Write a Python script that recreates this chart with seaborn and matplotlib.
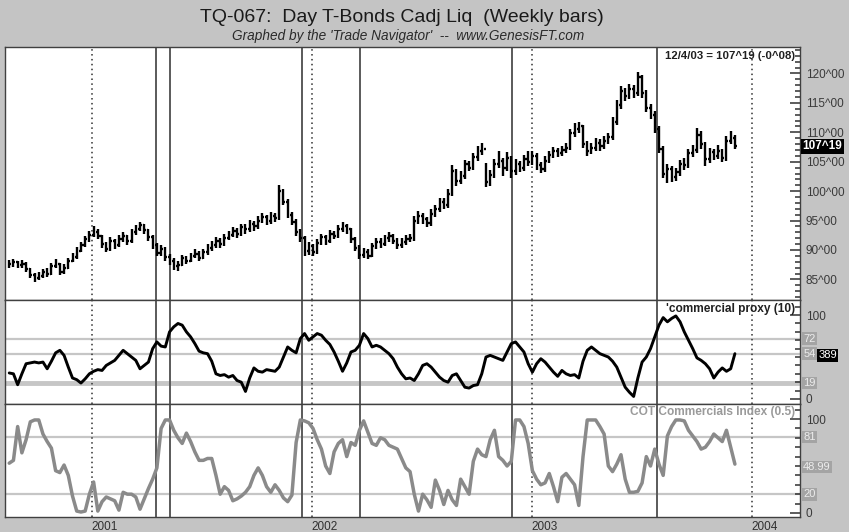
import matplotlib
matplotlib.use('Agg')
import matplotlib.pyplot as plt
import matplotlib.dates as mdates
from matplotlib.ticker import MultipleLocator, FixedLocator, FuncFormatter
import seaborn as sns
import pandas as pd

# weekly T-Bond bars (cadj), last bar 12/4/03
close = [87.6, 87.9, 87.4, 87.7, 86.8, 85.8, 85.3, 85.6, 86.2, 86.0,
         87.2, 87.6, 86.3, 87.0, 88.2, 88.8, 89.9, 90.8, 91.8, 92.6,
         93.1, 92.4, 91.0, 90.2, 91.6, 90.8, 91.9, 92.3, 91.5, 93.0,
         93.6, 94.2, 93.4, 92.2, 90.8, 89.5, 90.2, 88.8, 88.2, 87.2,
         87.5, 88.6, 88.2, 88.9, 89.4, 88.7, 89.6, 90.3, 90.9, 91.5,
         91.0, 92.1, 92.6, 93.2, 92.8, 93.9, 93.5, 94.4, 94.0, 95.0,
         95.6, 94.9, 95.8, 95.4, 100.0, 98.2, 96.0, 94.8, 93.0, 92.0,
         89.8, 90.6, 89.6, 91.2, 92.2, 91.5, 92.8, 92.4, 93.6, 94.0,
         93.5, 91.8, 90.4, 89.2, 89.6, 89.0, 90.6, 91.4, 91.0, 92.0,
         92.4, 91.6, 90.8, 91.4, 91.8, 92.0, 95.0, 95.8, 95.2, 94.6,
         96.2, 97.0, 98.2, 97.6, 99.6, 103.4, 101.8, 102.6, 104.6, 104.0,
         105.8, 106.8, 107.2, 101.6, 102.8, 104.6, 105.2, 104.0, 105.6, 103.4,
         104.6, 104.0, 105.4, 105.0, 106.0, 104.4, 103.8, 105.2, 106.2, 106.8,
         106.4, 107.0, 107.4, 109.8, 110.6, 111.0, 108.0, 106.8, 107.4, 108.2,
         107.6, 108.6, 109.2, 111.8, 114.6, 117.0, 116.2, 117.4, 116.6, 119.4,
         116.6, 114.2, 113.0, 110.6, 107.2, 103.0, 103.8, 102.4, 103.2, 104.6,
         104.4, 106.4, 107.0, 109.6, 108.0, 105.4, 106.6, 106.0, 106.8, 105.6,
         108.6, 109.0, 107.6]
high = [88.3, 88.4, 88.2, 88.3, 87.9, 87.0, 86.1, 86.2, 86.8, 86.9,
        87.8, 88.4, 87.8, 87.6, 88.7, 89.5, 90.5, 91.4, 92.4, 93.2,
        94.0, 93.5, 92.6, 91.4, 92.2, 91.9, 92.5, 93.0, 92.6, 93.5,
        94.3, 94.8, 94.5, 93.6, 92.5, 91.2, 90.9, 90.5, 89.3, 88.6,
        88.2, 89.2, 89.0, 89.5, 90.1, 89.8, 90.2, 91.0, 91.6, 92.2,
        92.0, 92.7, 93.3, 93.9, 93.8, 94.5, 94.4, 95.1, 94.9, 95.7,
        96.3, 96.0, 96.4, 96.3, 101.0, 100.4, 98.6, 96.5, 95.2, 93.6,
        92.4, 91.3, 91.0, 91.8, 92.8, 92.6, 93.4, 93.3, 94.2, 94.7,
        94.5, 93.8, 92.2, 90.8, 90.3, 90.2, 91.2, 92.0, 92.0, 92.6,
        93.1, 92.8, 92.0, 92.1, 92.5, 92.8, 95.8, 96.6, 96.3, 95.6,
        96.9, 97.7, 98.9, 98.8, 100.4, 104.4, 103.8, 103.4, 105.3, 105.2,
        106.5, 107.6, 108.2, 104.8, 103.6, 105.4, 106.9, 105.6, 106.6, 105.9,
        105.4, 105.2, 106.2, 106.9, 106.8, 106.4, 104.9, 105.9, 106.9, 107.5,
        107.4, 107.6, 108.1, 110.5, 111.5, 111.8, 111.2, 108.6, 108.2, 109.0,
        108.8, 109.3, 109.9, 112.6, 115.5, 117.8, 117.6, 118.2, 118.0, 120.2,
        119.8, 117.2, 114.8, 113.6, 111.0, 107.6, 104.6, 104.3, 104.0, 105.3,
        105.6, 107.2, 107.9, 110.7, 110.2, 108.4, 107.4, 107.2, 107.8, 107.2,
        109.4, 110.2, 109.6]
low = [86.9, 87.1, 86.9, 87.0, 86.3, 85.2, 84.6, 84.9, 85.3, 85.4,
       85.8, 86.9, 85.8, 86.0, 86.8, 87.9, 88.5, 89.6, 90.5, 91.4,
       92.2, 91.8, 90.4, 89.6, 89.9, 90.2, 90.5, 91.4, 90.9, 91.2,
       92.6, 93.2, 92.8, 91.6, 90.2, 88.9, 89.0, 88.2, 87.5, 86.6,
       86.5, 87.2, 87.6, 87.9, 88.6, 88.1, 88.4, 89.2, 89.9, 90.4,
       90.3, 90.6, 91.7, 92.2, 92.1, 92.4, 92.8, 93.1, 93.3, 93.6,
       94.6, 94.3, 94.5, 94.8, 95.1, 97.6, 95.4, 94.2, 92.4, 91.3,
       89.0, 89.2, 88.9, 89.3, 90.8, 90.9, 91.2, 91.8, 92.0, 93.0,
       92.8, 91.2, 89.8, 88.5, 88.6, 88.4, 88.8, 90.1, 90.4, 90.6,
       91.4, 91.0, 90.2, 90.3, 90.9, 91.3, 91.6, 94.4, 94.4, 93.9,
       94.1, 95.6, 96.4, 96.9, 97.1, 99.2, 100.8, 101.2, 102.1, 103.4,
       103.6, 105.2, 106.2, 100.7, 100.9, 102.2, 104.0, 102.6, 103.5, 102.3,
       102.8, 103.2, 103.5, 104.2, 104.4, 103.6, 103.1, 103.3, 104.8, 105.7,
       105.8, 105.9, 106.4, 107.0, 109.2, 109.9, 107.4, 106.0, 106.3, 106.9,
       106.8, 107.1, 108.0, 108.7, 111.3, 114.0, 115.4, 115.6, 115.8, 116.2,
       115.9, 113.5, 112.2, 109.8, 106.5, 102.2, 101.4, 101.6, 101.8, 102.6,
       103.6, 103.9, 105.8, 106.4, 107.2, 104.2, 104.8, 105.3, 105.4, 105.0,
       105.2, 108.0, 107.2]

# 'commercial proxy (10)
proxy = [31, 30, 17, 30, 42, 43, 44, 43, 44, 36,
         45, 55, 58, 52, 38, 25, 23, 19, 24, 30,
         33, 35, 34, 40, 43, 46, 52, 58, 54, 50,
         46, 36, 40, 44, 60, 68, 63, 62, 80, 86,
         90, 88, 80, 74, 66, 57, 55, 54, 45, 30,
         28, 29, 26, 28, 22, 20, 9, 25, 37, 33,
         32, 35, 34, 33, 38, 50, 62, 58, 55, 72,
         78, 70, 74, 78, 76, 70, 65, 56, 45, 33,
         43, 56, 58, 64, 78, 72, 62, 64, 62, 58,
         54, 48, 38, 30, 24, 25, 22, 30, 40, 42,
         38, 32, 26, 22, 20, 28, 30, 22, 14, 13,
         16, 17, 30, 50, 52, 50, 48, 46, 56, 66,
         68, 62, 56, 42, 32, 42, 48, 44, 38, 32,
         27, 34, 30, 28, 29, 25, 45, 58, 62, 58,
         54, 52, 50, 45, 38, 26, 14, 8, 3, 25,
         44, 50, 60, 74, 88, 97, 92, 96, 99, 92,
         80, 70, 60, 49, 46, 42, 36, 25, 32, 37,
         33, 36, 54]

# COT Commercials Index (0.5)
cot = [53, 56, 92, 64, 78, 97, 99, 99, 84, 76,
       69, 45, 43, 51, 40, 18, 2, 1, 2, 20,
       33, 2, 12, 17, 15, 13, 3, 22, 20, 20,
       17, 4, 15, 26, 36, 48, 90, 99, 99, 88,
       80, 74, 85, 76, 65, 56, 56, 58, 58, 40,
       20, 28, 24, 13, 15, 18, 22, 28, 40, 48,
       40, 28, 22, 30, 24, 16, 12, 19, 75, 99,
       98, 96, 90, 78, 68, 50, 42, 65, 74, 78,
       60, 75, 72, 88, 98, 86, 74, 72, 80, 78,
       72, 70, 68, 58, 48, 44, 20, 2, 20, 14,
       6, 35, 24, 9, 24, 14, 8, 36, 28, 20,
       55, 68, 62, 60, 78, 88, 60, 56, 50, 55,
       99, 99, 92, 74, 45, 36, 30, 32, 42, 28,
       12, 38, 42, 36, 30, 8, 60, 99, 99, 99,
       92, 84, 50, 44, 52, 62, 36, 22, 22, 23,
       32, 60, 50, 68, 52, 40, 82, 92, 99, 99,
       98, 88, 82, 76, 68, 70, 76, 84, 80, 76,
       88, 70, 52]

year_starts = ['2001-01-01', '2002-01-01', '2003-01-01', '2004-01-01']
year_labels = ['2001', '2002', '2003', '2004']
marker_dates = ['2001-04-18', '2001-05-10', '2001-12-15', '2002-03-22',
                '2002-11-29', '2003-07-27']
proxy_levels = [72, 54, 19]
cot_levels = [81, 20]

sns.set_style("white")
plt.rcParams['font.family'] = ['Liberation Sans', 'DejaVu Sans']

weeks = pd.date_range(end='2003-12-04', periods=len(close), freq='7D')
df = pd.DataFrame({'week': weeks, 'close': close, 'high': high, 'low': low,
                   'proxy': proxy, 'cot': cot})
df['open'] = df['close'].shift(1).fillna(df['close'])

BG = '#c4c4c4'
W, H = 849, 532
fig = plt.figure(figsize=(W / 100, H / 100), dpi=100, facecolor=BG)


def rect(x0, y0, x1, y1):
    return [x0 / W, 1 - y1 / H, (x1 - x0) / W, (y1 - y0) / H]


ax1 = fig.add_axes(rect(5, 47, 800, 300))
ax2 = fig.add_axes(rect(5, 300, 800, 404))
ax3 = fig.add_axes(rect(5, 404, 800, 517))

xmin, xmax = pd.Timestamp('2000-08-10'), pd.Timestamp('2004-03-21')
for ax in (ax1, ax2, ax3):
    ax.set_facecolor('white')
    ax.set_xlim(xmin, xmax)
    for s in ax.spines.values():
        s.set_color('#404040')
        s.set_linewidth(1.0)
    for d in year_starts:
        ax.axvline(pd.Timestamp(d), color='#303030', lw=1.1, ls=(0, (1, 2.2)), zorder=1)
    for d in marker_dates:
        ax.axvline(pd.Timestamp(d), color='#5a5a5a', lw=1.4, zorder=1)
    ax.yaxis.tick_right()
    ax.tick_params(axis='y', which='major', direction='in', length=7, width=1.1,
                   color='#303030', labelsize=8.5, labelcolor='#3a3a3a', pad=4,
                   left=False, right=True)
    ax.tick_params(axis='y', which='minor', direction='in', length=3.5, width=1.1,
                   color='#303030', left=False, right=True)

# price bars
xn = mdates.date2num(df['week'])
ax1.vlines(df['week'], df['low'], df['high'], color='black', lw=1.7, zorder=3)
ax1.hlines(df['close'], xn, xn + 2.8, color='black', lw=1.7, zorder=3)
ax1.hlines(df['open'], xn - 2.8, xn, color='black', lw=1.7, zorder=3)
ax1.set_ylim(81.5, 124.5)
ax1.yaxis.set_major_locator(MultipleLocator(5))
ax1.yaxis.set_minor_locator(MultipleLocator(1))
ax1.yaxis.set_major_formatter(FuncFormatter(lambda v, p: f"{int(round(v))}^00"))
ax1.set_xticks([])
ax1.text(0.994, 0.985, "12/4/03 = 107^19 (-0^08)", transform=ax1.transAxes,
         ha='right', va='top', fontsize=8.2, fontweight='bold', color='#202020')
ax1.text(1.003, close[-1], "107^19", transform=ax1.get_yaxis_transform(),
         ha='left', va='center', fontsize=8.5, color='white', fontweight='bold',
         bbox=dict(boxstyle='square,pad=0.12', fc='black', ec='none'), zorder=5)

# commercial proxy
for lv in proxy_levels:
    ax2.axhline(lv, color='#c6c6c6', lw=3.5 if lv == 19 else 1.6, zorder=0)
sns.lineplot(data=df, x='week', y='proxy', ax=ax2, color='black', lw=2.1, zorder=3)
ax2.set_ylim(-6, 118)
ax2.yaxis.set_major_locator(FixedLocator([0, 100]))
ax2.yaxis.set_minor_locator(MultipleLocator(10))
ax2.set_xticks([])
ax2.set_xlabel('')
ax2.set_ylabel('')
ax2.text(0.994, 0.915, "'commercial proxy (10)", transform=ax2.transAxes,
         ha='right', va='center', fontsize=8.6, fontweight='bold', color='#202020')

# COT commercials index
for lv in cot_levels:
    ax3.axhline(lv, color='#c6c6c6', lw=1.6, zorder=0)
sns.lineplot(data=df, x='week', y='cot', ax=ax3, color='#8a8a8a', lw=2.5, zorder=3)
ax3.set_ylim(-4.3, 116)
ax3.yaxis.set_major_locator(FixedLocator([0, 100]))
ax3.yaxis.set_minor_locator(MultipleLocator(10))
ax3.set_xlabel('')
ax3.set_ylabel('')
ax3.text(0.994, 0.93, "COT Commercials Index (0.5)", transform=ax3.transAxes,
         ha='right', va='center', fontsize=8.6, fontweight='bold', color='#9a9a9a')
ax3.set_xticks([pd.Timestamp(d) for d in year_starts])
ax3.set_xticklabels(year_labels)
ax3.tick_params(axis='x', length=0, pad=3, labelsize=8.5, labelcolor='#303030')
for t in ax3.get_xticklabels():
    t.set_ha('left')

box = dict(boxstyle='square,pad=0.12', fc='#a4a4a4', ec='none')
for ax, labels in ((ax2, [(72, '72'), (54, '54'), (19, '19')]),
                  (ax3, [(81, '81'), (48.99, '48.99'), (20, '20')])):
    for v, s in labels:
        ax.text(1.004, v, s, transform=ax.get_yaxis_transform(), ha='left',
                va='center', fontsize=8, color='#ececec', bbox=box, zorder=5)
ax2.text(1.023, 52, "389", transform=ax2.get_yaxis_transform(), ha='left',
         va='center', fontsize=8, color='white',
         bbox=dict(boxstyle='square,pad=0.12', fc='black', ec='none'), zorder=6)

fig.text(402 / W, 1 - 18 / H, "TQ-067:  Day T-Bonds Cadj Liq  (Weekly bars)",
         ha='center', va='center', fontsize=14, color='#1a1a1a')
fig.text(408 / W, 1 - 36 / H,
         "Graphed by the 'Trade Navigator'  --  www.GenesisFT.com",
         ha='center', va='center', fontsize=9.8, style='italic', color='#2a2a2a')

fig.savefig('out.png', dpi=100, facecolor=BG)
plt.close('all')
